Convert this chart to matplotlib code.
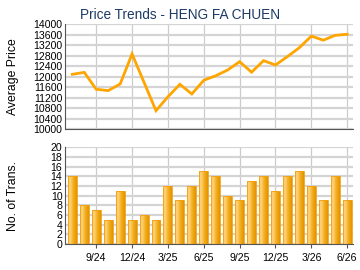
import numpy as np
import matplotlib
matplotlib.use('Agg')
import matplotlib.pyplot as plt
from matplotlib.colors import LinearSegmentedColormap

plt.rcParams['font.family'] = ['Liberation Sans', 'DejaVu Sans']

# monthly data, 7/24 .. 6/26
months = ['7/24', '8/24', '9/24', '10/24', '11/24', '12/24', '1/25', '2/25', '3/25',
          '4/25', '5/25', '6/25', '7/25', '8/25', '9/25', '10/25', '11/25', '12/25',
          '1/26', '2/26', '3/26', '4/26', '5/26', '6/26']
avg_price = [12095, 12170, 11525, 11475, 11725, 12870, 11790, 10710, 11240, 11715,
             11345, 11870, 12040, 12260, 12575, 12175, 12615, 12450, 12770, 13110,
             13550, 13395, 13580, 13620]
num_trans = [14, 8, 7, 5, 11, 5, 6, 5, 12, 9, 12, 15, 14, 10, 9, 13, 14, 11, 14, 15,
             12, 9, 14, 9]
tick_labels = ['9/24', '12/24', '3/25', '6/25', '9/25', '12/25', '3/26', '6/26']

x = np.arange(len(months))
tick_pos = [months.index(m) for m in tick_labels]

fig = plt.figure(figsize=(3.6, 2.7), dpi=100)
ax1 = fig.add_axes([0.181, 0.521, 0.80, 0.389])
ax2 = fig.add_axes([0.181, 0.096, 0.80, 0.359])

title_col = '#1b3a66'
grid_col = '#d4d4d4'

for ax in (ax1, ax2):
    ax.set_xlim(-0.6, 23.5)
    ax.set_xticks(tick_pos)
    for s in ('top', 'right'):
        ax.spines[s].set_visible(False)
    ax.spines['left'].set_color('#555555')
    ax.spines['bottom'].set_color('#555555')
    ax.tick_params(axis='y', length=0, labelsize=7.6, pad=2)
    ax.tick_params(axis='x', labelsize=7.6, length=3, color='#555555')
    ax.grid(axis='y', color=grid_col, lw=1.6)
    ax.grid(axis='x', color='#cccccc', lw=0.9)
    ax.set_axisbelow(True)

# price line
ax1.plot(x, avg_price, color='#ffa500', lw=2, solid_joinstyle='miter')
ax1.set_ylim(10000, 14000)
ax1.set_yticks(np.arange(10000, 14001, 400))
ax1.set_xticklabels([])
ax1.tick_params(axis='x', length=0)
ax1.set_ylabel('Average Price', fontsize=8.8)
ax1.yaxis.set_label_coords(-0.16, 0.5)
ax1.set_title('Price Trends - HENG FA CHUEN', fontsize=9.8, color=title_col, pad=4, x=0.4)

# transaction bars with a horizontal gradient
w = 0.75
cmap = LinearSegmentedColormap.from_list('bar', ['#fbc556', '#ffd27c', '#f7b733', '#eea30f', '#e39400'])
grad = np.linspace(0, 1, 64).reshape(1, -1)
bars = ax2.bar(x, num_trans, width=w, color='none', edgecolor='#f0a010', lw=0.6, zorder=3)
for b in bars:
    x0, h = b.get_x(), b.get_height()
    im = ax2.imshow(grad, cmap=cmap, aspect='auto', extent=[x0, x0 + w, 0, h], zorder=2)
    im.set_clip_path(b)
ax2.set_xlim(-0.6, 23.5)
ax2.set_ylim(0, 20)
ax2.set_yticks(np.arange(0, 21, 2))
ax2.set_xticklabels(tick_labels)
ax2.set_ylabel('No. of Trans.', fontsize=8.8)
ax2.yaxis.set_label_coords(-0.16, 0.5)

fig.savefig('out.png', dpi=100)
